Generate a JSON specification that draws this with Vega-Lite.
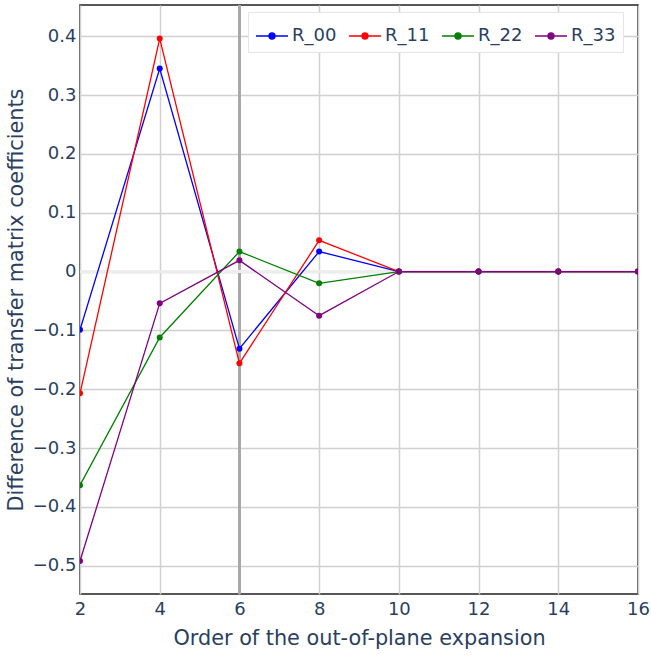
{
  "$schema": "https://vega.github.io/schema/vega-lite/v6.json",
  "width": 558,
  "height": 589,
  "autosize": {"type": "none"},
  "padding": {"left": 80, "top": 5, "right": 13, "bottom": 62},
  "background": "white",
  "config": {
    "view": {"stroke": "#222", "strokeWidth": 1.5},
    "font": "DejaVu Sans",
    "axis": {
      "labelFont": "DejaVu Sans",
      "titleFont": "DejaVu Sans",
      "labelColor": "#2a3f5f",
      "titleColor": "#2a3f5f",
      "labelFontSize": 18,
      "titleFontSize": 20.8,
      "titleFontWeight": "normal",
      "gridColor": "#d0d0d0",
      "gridWidth": 1.5,
      "domain": false,
      "ticks": false,
      "labelFlush": false
    }
  },
  "data": {
    "values": [
      {"order": 2, "series": "R_00", "value": -0.099},
      {"order": 4, "series": "R_00", "value": 0.345},
      {"order": 6, "series": "R_00", "value": -0.131},
      {"order": 8, "series": "R_00", "value": 0.034},
      {"order": 10, "series": "R_00", "value": 0.0},
      {"order": 12, "series": "R_00", "value": 0.0},
      {"order": 14, "series": "R_00", "value": 0.0},
      {"order": 16, "series": "R_00", "value": 0.0},
      {"order": 2, "series": "R_11", "value": -0.207},
      {"order": 4, "series": "R_11", "value": 0.396},
      {"order": 6, "series": "R_11", "value": -0.156},
      {"order": 8, "series": "R_11", "value": 0.053},
      {"order": 10, "series": "R_11", "value": 0.0},
      {"order": 12, "series": "R_11", "value": 0.0},
      {"order": 14, "series": "R_11", "value": 0.0},
      {"order": 16, "series": "R_11", "value": 0.0},
      {"order": 2, "series": "R_22", "value": -0.363},
      {"order": 4, "series": "R_22", "value": -0.112},
      {"order": 6, "series": "R_22", "value": 0.034},
      {"order": 8, "series": "R_22", "value": -0.02},
      {"order": 10, "series": "R_22", "value": 0.0},
      {"order": 12, "series": "R_22", "value": 0.0},
      {"order": 14, "series": "R_22", "value": 0.0},
      {"order": 16, "series": "R_22", "value": 0.0},
      {"order": 2, "series": "R_33", "value": -0.492},
      {"order": 4, "series": "R_33", "value": -0.054},
      {"order": 6, "series": "R_33", "value": 0.019},
      {"order": 8, "series": "R_33", "value": -0.075},
      {"order": 10, "series": "R_33", "value": 0.0},
      {"order": 12, "series": "R_33", "value": 0.0},
      {"order": 14, "series": "R_33", "value": 0.0},
      {"order": 16, "series": "R_33", "value": 0.0}
    ]
  },
  "layer": [
    {
      "mark": {"type": "rule", "color": "#a8a8a8", "strokeWidth": 2},
      "encoding": {"x": {"datum": 6, "type": "quantitative"}}
    },
    {
      "mark": {"type": "rule", "color": "#eeeeee", "strokeWidth": 2},
      "encoding": {"y": {"datum": 0, "type": "quantitative"}}
    },
    {
      "mark": {"type": "line", "strokeWidth": 1.3, "clip": true},
      "encoding": {
        "x": {
          "field": "order", "type": "quantitative",
          "scale": {"domain": [2, 16], "nice": false, "zero": false},
          "axis": {"values": [2, 4, 6, 8, 10, 12, 14, 16], "title": "Order of the out-of-plane expansion", "labelPadding": 6, "titlePadding": 10, "grid": true}
        },
        "y": {
          "field": "value", "type": "quantitative",
          "scale": {"domain": [-0.548, 0.453], "nice": false, "zero": false},
          "axis": {"values": [-0.5, -0.4, -0.3, -0.2, -0.1, 0, 0.1, 0.2, 0.3, 0.4], "labelExpr": "datum.value == 0 ? '0' : format(datum.value, '.1f')", "title": "Difference of transfer matrix coefficients", "labelPadding": 4, "titlePadding": 6, "grid": true}
        },
        "color": {
          "field": "series", "type": "nominal",
          "scale": {"domain": ["R_00", "R_11", "R_22", "R_33"], "range": ["#0000ff", "#ff0000", "#008000", "#800080"]},
          "legend": {
            "orient": "none", "legendX": 168, "legendY": 7, "direction": "horizontal", "title": null,
            "symbolType": "M-1,0H1M-0.19,0A0.19,0.19 0 1 1 0.19,0A0.19,0.19 0 1 1 -0.19,0Z",
            "symbolSize": 1024, "symbolStrokeWidth": 1.3,
            "labelFontSize": 18, "labelFont": "DejaVu Sans", "labelColor": "#2a3f5f",
            "padding": 7, "strokeColor": "#e5e5e5", "fillColor": "white",
            "columnPadding": 9, "labelOffset": 3,
            "encode": {"symbols": {"update": {"fill": {"scale": "color", "field": "value"}, "stroke": {"scale": "color", "field": "value"}, "opacity": {"value": 1}}}}
          }
        }
      }
    },
    {
      "mark": {"type": "point", "filled": true, "size": 36, "opacity": 1, "clip": true},
      "encoding": {
        "x": {"field": "order", "type": "quantitative"},
        "y": {"field": "value", "type": "quantitative"},
        "color": {"field": "series", "type": "nominal"}
      }
    }
  ]
}
